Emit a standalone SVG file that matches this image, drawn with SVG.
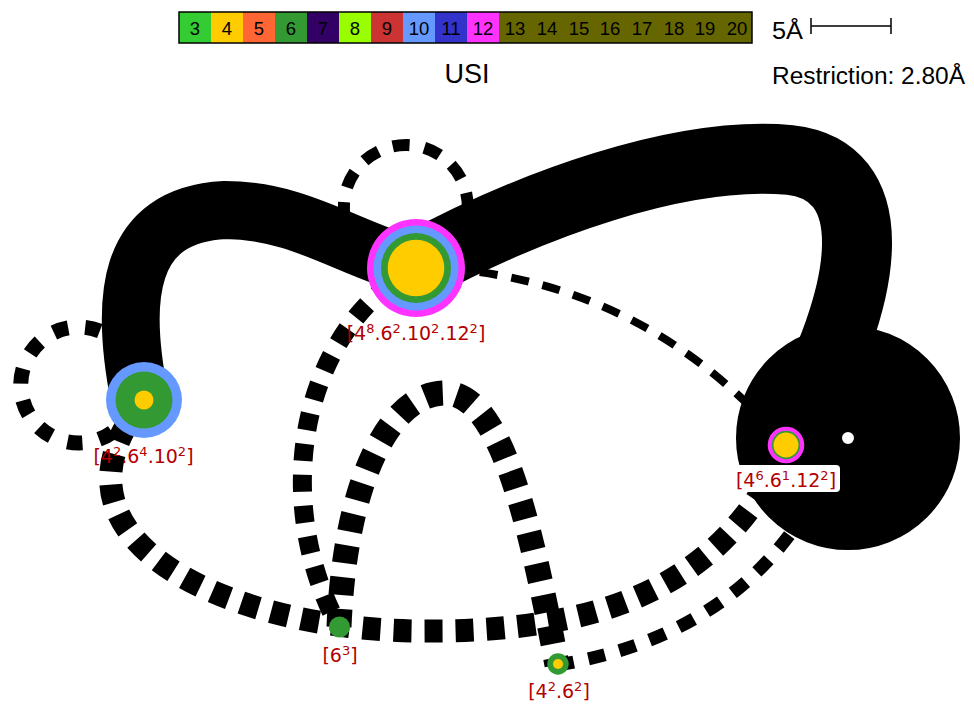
<svg xmlns="http://www.w3.org/2000/svg" width="974" height="707" viewBox="0 0 974 707">
<style>
.leg{font-family:"Liberation Sans","DejaVu Sans",sans-serif;font-size:18.5px;fill:#000;text-anchor:middle}
.ttl{font-family:"Liberation Sans","DejaVu Sans",sans-serif;fill:#000}
.lbl{font-family:"DejaVu Sans","Noto Sans",sans-serif;font-size:19px;fill:#b30000;text-anchor:middle}
.sup{font-size:13px}
.thick{fill:none;stroke:#000;stroke-linecap:butt}
.dash{fill:none;stroke:#000;stroke-linecap:butt}
</style>
<rect width="974" height="707" fill="#fff"/>
<g id="legend">
<rect x="179" y="12" width="32" height="31" fill="#33cc33"/>
<rect x="211" y="12" width="32" height="31" fill="#ffcc00"/>
<rect x="243" y="12" width="32" height="31" fill="#ff6633"/>
<rect x="275" y="12" width="32" height="31" fill="#339933"/>
<rect x="307" y="12" width="32" height="31" fill="#330066"/>
<rect x="339" y="12" width="32" height="31" fill="#99ff00"/>
<rect x="371" y="12" width="32" height="31" fill="#cc3333"/>
<rect x="403" y="12" width="32" height="31" fill="#6699ff"/>
<rect x="435" y="12" width="32" height="31" fill="#3333cc"/>
<rect x="467" y="12" width="32" height="31" fill="#ff33ff"/>
<rect x="499" y="12" width="253" height="31" fill="#666600"/>
<rect x="179" y="12" width="573" height="31" fill="none" stroke="#000" stroke-width="1.5"/>
<text class="leg" x="195" y="35">3</text>
<text class="leg" x="227" y="35">4</text>
<text class="leg" x="259" y="35">5</text>
<text class="leg" x="291" y="35">6</text>
<text class="leg" x="323" y="35">7</text>
<text class="leg" x="355" y="35">8</text>
<text class="leg" x="387" y="35">9</text>
<text class="leg" x="419" y="35">10</text>
<text class="leg" x="451" y="35">11</text>
<text class="leg" x="483" y="35">12</text>
<text class="leg" x="515" y="35">13</text>
<text class="leg" x="547" y="35">14</text>
<text class="leg" x="579" y="35">15</text>
<text class="leg" x="610" y="35">16</text>
<text class="leg" x="642" y="35">17</text>
<text class="leg" x="674" y="35">18</text>
<text class="leg" x="705" y="35">19</text>
<text class="leg" x="737" y="35">20</text>
<text class="ttl" x="467" y="83" font-size="27" text-anchor="middle">USI</text>
<text class="ttl" x="772" y="39" font-size="23" textLength="31" lengthAdjust="spacingAndGlyphs">5Å</text>
<path d="M811 26H891M811 18V34M891 18V34" stroke="#000" stroke-width="1.5" fill="none"/>
<text class="ttl" x="772" y="84" font-size="23" textLength="193" lengthAdjust="spacingAndGlyphs">Restriction: 2.80Å</text>
</g>
<g id="connectors">
<path class="thick" d="M140 400 C120 300 125 215 225 210 C300 210 350 250 416 267" stroke-width="58"/>
<path class="thick" d="M416 267 C530 205 680 150 790 160 C880 170 880 280 786 445" stroke-width="70"/>
<circle cx="848" cy="438" r="59" fill="none" stroke="#000" stroke-width="106"/>
<path class="dash" d="M125 350 A58 58 0 1 0 125 420" stroke-width="15" stroke-dasharray="15 17"/>
<path class="dash" d="M345 219 A62 62 0 1 1 466 222" stroke-width="12" stroke-dasharray="17 15"/>
<path class="dash" d="M416 267 C550 270 680 320 786 445" stroke-width="8" stroke-dasharray="18 14"/>
<path class="dash" d="M416 267 C300 330 270 500 339 627" stroke-width="19" stroke-dasharray="17 14"/>
<path class="dash" d="M339 627 C345 480 390 393 445 393 C500 393 530 520 557 665" stroke-width="25" stroke-dasharray="18 14"/>
<path class="dash" d="M144 400 C30 540 230 630 420 631 C580 632 720 600 786 445" stroke-width="23" stroke-dasharray="18 13"/>
<path class="dash" d="M557 665 C650 650 740 610 800 520" stroke-width="13" stroke-dasharray="17 15"/>
</g>
<g id="node-A">
<circle cx="144" cy="400" r="38" fill="#6699ff"/>
<circle cx="144" cy="400" r="28.5" fill="#339933"/>
<circle cx="144" cy="400" r="9.5" fill="#ffcc00"/>
<text class="lbl" x="143.5" y="463">[4<tspan class="sup" dy="-7">2</tspan><tspan dy="7">.6</tspan><tspan class="sup" dy="-7">4</tspan><tspan dy="7">.10</tspan><tspan class="sup" dy="-7">2</tspan><tspan dy="7">]</tspan></text>
</g>
<g id="node-B">
<circle cx="416" cy="268" r="49" fill="#ff33ff"/>
<circle cx="416" cy="268" r="42.5" fill="#6699ff"/>
<circle cx="416" cy="268" r="35" fill="#339933"/>
<circle cx="416" cy="268" r="28.3" fill="#ffcc00"/>
<text class="lbl" x="416" y="340">[4<tspan class="sup" dy="-7">8</tspan><tspan dy="7">.6</tspan><tspan class="sup" dy="-7">2</tspan><tspan dy="7">.10</tspan><tspan class="sup" dy="-7">2</tspan><tspan dy="7">.12</tspan><tspan class="sup" dy="-7">2</tspan><tspan dy="7">]</tspan></text>
</g>
<g id="node-C">
<circle cx="786" cy="445" r="18.3" fill="#ff33ff"/>
<circle cx="786" cy="445" r="14.2" fill="#339933"/>
<circle cx="786" cy="445" r="12.5" fill="#ffcc00"/>
<rect x="733" y="465" width="107" height="27" rx="4" fill="#fff"/>
<text class="lbl" x="786" y="487">[4<tspan class="sup" dy="-7">6</tspan><tspan dy="7">.6</tspan><tspan class="sup" dy="-7">1</tspan><tspan dy="7">.12</tspan><tspan class="sup" dy="-7">2</tspan><tspan dy="7">]</tspan></text>
</g>
<g id="node-D">
<circle cx="339.5" cy="627" r="10.5" fill="#339933"/>
<text class="lbl" x="340" y="662">[6<tspan class="sup" dy="-7">3</tspan><tspan dy="7">]</tspan></text>
</g>
<g id="node-E">
<circle cx="558" cy="664" r="10.7" fill="#339933"/>
<circle cx="558" cy="664" r="5" fill="#ffcc00"/>
<text class="lbl" x="559" y="698">[4<tspan class="sup" dy="-7">2</tspan><tspan dy="7">.6</tspan><tspan class="sup" dy="-7">2</tspan><tspan dy="7">]</tspan></text>
</g>
</svg>
